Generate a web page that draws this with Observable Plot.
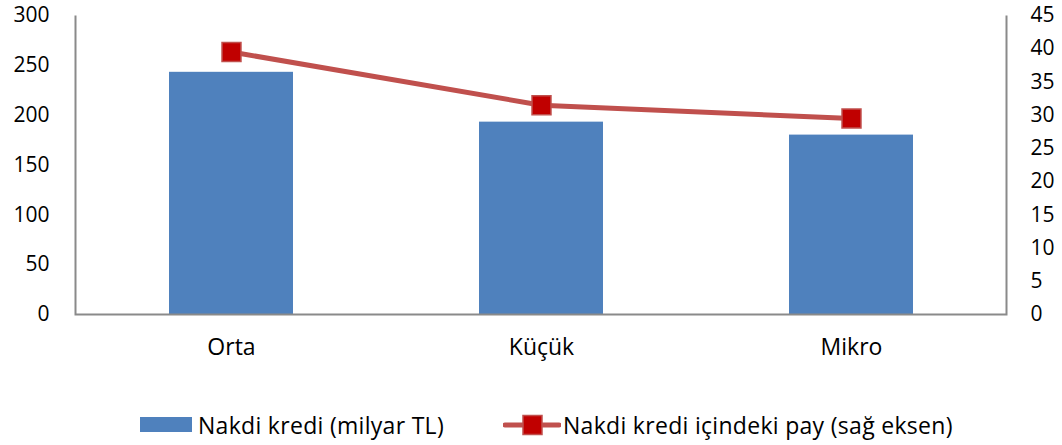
<!DOCTYPE html>
<html><head><meta charset="utf-8">
<script src="https://cdn.jsdelivr.net/npm/d3@7"></script>
<script src="https://cdn.jsdelivr.net/npm/@observablehq/plot@0.6"></script>
<style>
body{margin:0;background:#fff;}
#chart{width:1062px;}
.legend{position:relative;height:55px;font-family:"Open Sans",sans-serif;font-size:23px;letter-spacing:0.3px;color:#000;}
.item{position:absolute;top:0;height:55px;display:flex;align-items:center;padding-top:14px;box-sizing:border-box;white-space:nowrap;}
</style>
</head><body>
<div id="chart"></div>
<script>
const categories = ["Orta", "Küçük", "Mikro"];
const credit = [243, 193, 180];      // Nakdi kredi (milyar TL), left axis
const share = [39.5, 31.5, 29.5];    // Nakdi kredi içindeki pay (sağ eksen), right axis
const leftTicks = [0, 50, 100, 150, 200, 250, 300];
const rightTicks = [0, 5, 10, 15, 20, 25, 30, 35, 40, 45];
const leftMax = 300, rightMax = 45;
const k = leftMax / rightMax;

const data = categories.map((c, i) => ({cat: c, credit: credit[i], share: share[i], shareScaled: share[i] * k}));

const W = 1062, H = 390, mT = 15, mB = 76, mL = 75, mR = 56;
const pw = W - mL - mR, ph = H - mT - mB;

const plot = Plot.plot({
  width: W, height: H,
  marginTop: mT, marginBottom: mB, marginLeft: mL, marginRight: mR,
  style: {fontFamily: "'Open Sans', sans-serif", fontSize: "21px", color: "#000", background: "#fff"},
  x: {domain: categories, paddingInner: 0.6, paddingOuter: 0.3, label: null},
  y: {domain: [0, leftMax], label: null},
  marks: [
    Plot.barY(data, {x: "cat", y: "credit", fill: "#4F81BD"}),
    Plot.frame({stroke: "#8a8a8a", strokeWidth: 2, strokeDasharray: `0,${pw},${2 * ph + pw}`}),
    Plot.axisY(leftTicks, {anchor: "left", tickSize: 0, tickPadding: 26, label: null, fontSize: 21}),
    Plot.axisY(rightTicks.map(v => v * k), {anchor: "right", tickSize: 0, tickPadding: 24, label: null, tickFormat: d => Math.round(d / k), fontSize: 21}),
    Plot.axisX({tickSize: 0, tickPadding: 24, label: null, fontSize: 23}),
    Plot.line(data, {x: "cat", y: "shareScaled", stroke: "#C0504D", strokeWidth: 5}),
    Plot.dot(data, {x: "cat", y: "shareScaled", symbol: "square", r: 10.7, fill: "#C00000", stroke: "#C0504D", strokeWidth: 1.5})
  ]
});
document.getElementById("chart").appendChild(plot);

const legend = document.createElement("div");
legend.className = "legend";
legend.innerHTML = `
<div class="item" style="left:140px"><span style="display:inline-block;width:52px;height:15px;background:#4F81BD;margin-right:6px"></span>Nakdi kredi (milyar TL)</div>
<div class="item" style="left:503px"><svg width="58" height="22" style="margin-right:2px"><line x1="2" y1="11" x2="56" y2="11" stroke="#C0504D" stroke-width="5" stroke-linecap="round"/><rect x="20" y="1.5" width="19" height="19" fill="#C00000" stroke="#C0504D" stroke-width="1.5"/></svg>Nakdi kredi içindeki pay (sağ eksen)</div>`;
document.getElementById("chart").appendChild(legend);
</script>
</body></html>
